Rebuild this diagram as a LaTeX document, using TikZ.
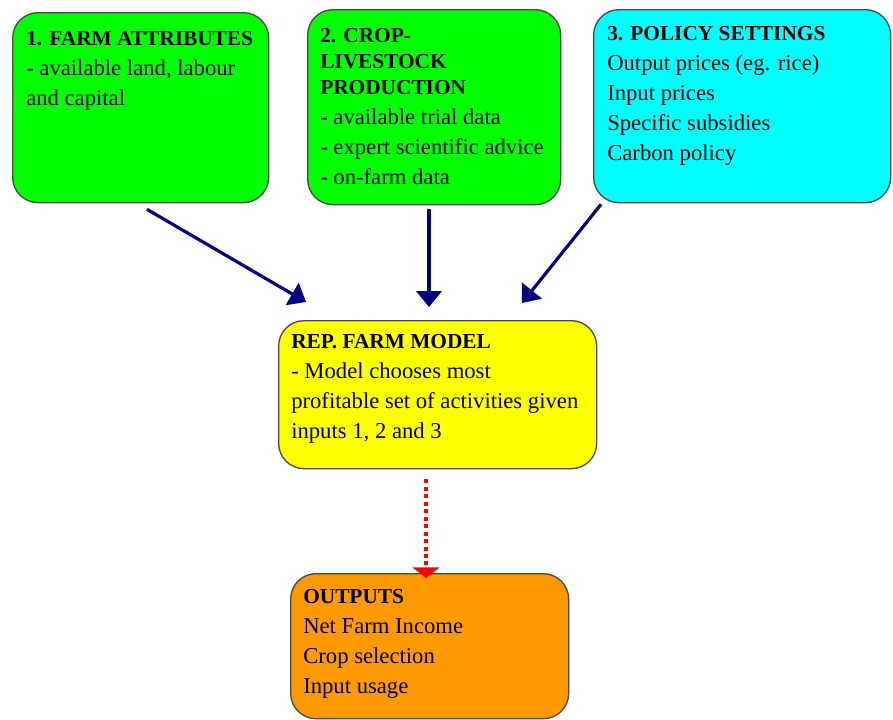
\documentclass[tikz,border=0pt]{standalone}
\usepackage{fontspec}
\setmainfont{Liberation Serif}
\usepackage{xcolor}
\definecolor{colGreen}{HTML}{00FF00}
\definecolor{colCyan}{HTML}{00FFFF}
\definecolor{colYellow}{HTML}{FFFF00}
\definecolor{colOrange}{HTML}{FF9900}
\definecolor{colEdge}{HTML}{4A4A4A}
\definecolor{colNavy}{HTML}{000080}
\definecolor{colRed}{HTML}{FF0000}
\usetikzlibrary{arrows.meta, positioning, calc}

\newcommand{\paneltitle}[1]{{\fontsize{16}{22.5}\selectfont\bfseries #1}}

\tikzset{
  panel/.style={draw=colEdge, line width=1pt, rounded corners=19pt, anchor=north west, inner sep=0pt},
  paneltext/.style={anchor=north west, inner sep=0pt, align=left, font=\fontsize{17}{22.5}\selectfont},
  feed/.style={colNavy, line width=2.4pt, -{Triangle[width=19pt,length=12pt]}},
  result/.style={colRed, line width=3pt, dash pattern=on 3pt off 2.6pt, -{Triangle[width=20pt,length=8pt]}}
}

\begin{document}
\begin{tikzpicture}[x=0.75pt, y=-0.75pt]
        % Scale: 1px -> 0.75pt, y runs downwards
        \useasboundingbox (0,0) rectangle (893,719);
        % Input panels
        \node[panel, fill=colGreen, minimum width=192pt, minimum height=142.5pt] (farm) at (12,12) {};
        \node[panel, fill=colGreen, minimum width=189.75pt, minimum height=146.25pt] (crop) at (307,9) {};
        \node[panel, fill=colCyan, minimum width=222.75pt, minimum height=144.75pt] (policy) at (593,9) {};
        % Model and outputs
        \node[panel, fill=colYellow, minimum width=238.5pt, minimum height=111pt] (model) at (278,320) {};
        \node[panel, fill=colOrange, minimum width=208.5pt, minimum height=108.75pt] (outputs) at (290,573) {};
        % Panel texts
        \node[paneltext] (farmtxt) at (26,31) {\paneltitle{1. FARM ATTRIBUTES}\\- available land, labour\\and capital};
        \node[paneltext] (croptxt) at (320,28) {\paneltitle{2. CROP-}\\[-3pt]\paneltitle{LIVESTOCK}\\[-3pt]\paneltitle{PRODUCTION}\\- available trial data\\- expert scientific advice\\- on-farm data};
        \node[paneltext] (policytxt) at (607,26) {\paneltitle{3. POLICY SETTINGS}\\Output prices (eg. rice)\\Input prices\\Specific subsidies\\Carbon policy};
        \node[paneltext] (modeltxt) at (291,334) {\paneltitle{REP. FARM MODEL}\\- Model chooses most\\profitable set of activities given\\inputs 1, 2 and 3};
        \node[paneltext] (outputstxt) at (303,589) {\paneltitle{OUTPUTS}\\Net Farm Income\\Crop selection\\Input usage};
        % Arrow ends
        \coordinate (farmout) at ($(farm.south west)+(135,6)$);
        \coordinate (farmin) at ($(model.north west)+(28,-18)$);
        \coordinate (cropout) at ($(crop.south west)+(122,4)$);
        \coordinate (cropin) at ($(model.north west)+(151,-13)$);
        \coordinate (policyout) at ($(policy.south west)+(8,1)$);
        \coordinate (policyin) at ($(model.north west)+(244,-17)$);
        \coordinate (modelout) at ($(model.south west)+(148,10)$);
        \coordinate (outputsin) at ($(outputs.north west)+(136,5)$);
        % Connectors
        \draw[feed] (farmout) -- (farmin);
        \draw[feed] (cropout) -- (cropin);
        \draw[feed] (policyout) -- (policyin);
        \draw[result] (modelout) -- (outputsin);
    \end{tikzpicture}
\end{document}
